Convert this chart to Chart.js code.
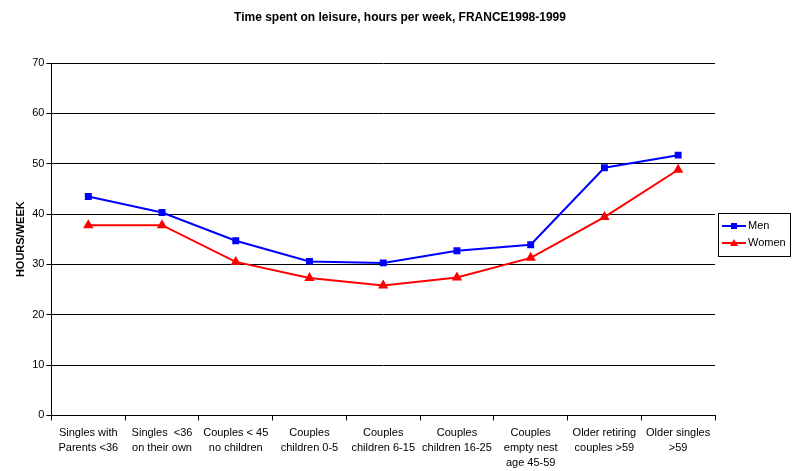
<!DOCTYPE html>
<html>
<head>
<meta charset="utf-8">
<script src="https://cdn.jsdelivr.net/npm/chart.js@4"></script>
<style>
	body { margin: 0; background: #fff; }
	#wrap { width: 793px; height: 471px; }
</style>
</head>
<body>
<div id="wrap"><canvas id="chart"></canvas></div>
<script>
// Time spent on leisure, France 1998-1999

const categories = [
	["Singles with", "Parents <36"],
	["Singles  <36", "on their own"],
	["Couples < 45", "no children"],
	["Couples", "children 0-5"],
	["Couples", "children 6-15"],
	["Couples", "children 16-25"],
	["Couples", "empty nest", "age 45-59"],
	["Older retiring", "couples >59"],
	["Older singles", ">59"],
];
const menHours = [43.5, 40.3, 34.7, 30.6, 30.3, 32.7, 33.9, 49.2, 51.7];
const womenHours = [37.8, 37.8, 30.5, 27.3, 25.8, 27.4, 31.3, 39.4, 48.8];
const yTicks = [0, 10, 20, 30, 40, 50, 60, 70];
const chartTitle = "Time spent on leisure, hours per week, FRANCE1998-1999";

const font = "'Liberation Sans', Arial, sans-serif";

// title + legend box drawn by hand, like the original
const decor = {
	id: "decor",
	afterDraw(chart) {
		const ctx = chart.ctx;
		ctx.save();
		ctx.fillStyle = "#000";
		ctx.font = "bold 12px " + font;
		ctx.textAlign = "center";
		ctx.textBaseline = "middle";
		ctx.fillText(chartTitle, 400, 18);
		ctx.textAlign = "left";

		const x = 718, y = 213, w = 72, h = 43;
		ctx.strokeStyle = "#000";
		ctx.lineWidth = 1;
		ctx.strokeRect(x + 0.5, y + 0.5, w, h);
		const items = [
			{ label: "Men", color: "#0000ff", shape: "square" },
			{ label: "Women", color: "#ff0000", shape: "tri" },
		];
		items.forEach((it, i) => {
			const cy = y + 13 + i * 17;
			ctx.strokeStyle = it.color;
			ctx.fillStyle = it.color;
			ctx.lineWidth = 2;
			ctx.beginPath();
			ctx.moveTo(x + 4, cy);
			ctx.lineTo(x + 28, cy);
			ctx.stroke();
			if (it.shape === "square") {
				ctx.fillRect(x + 13, cy - 3, 6, 6);
			} else {
				ctx.beginPath();
				ctx.moveTo(x + 16, cy - 4);
				ctx.lineTo(x + 20, cy + 3);
				ctx.lineTo(x + 12, cy + 3);
				ctx.closePath();
				ctx.fill();
			}
			ctx.fillStyle = "#000";
			ctx.font = "11px " + font;
			ctx.textBaseline = "middle";
			ctx.fillText(it.label, x + 30, cy);
		});
		ctx.restore();
	},
};

new Chart(document.getElementById("chart"), {
	type: "line",
	data: {
		labels: categories,
		datasets: [
			{
				label: "Men",
				data: menHours,
				borderColor: "#0000ff",
				backgroundColor: "#0000ff",
				borderWidth: 2,
				pointStyle: "rect",
				pointRadius: 3.5,
				tension: 0,
			},
			{
				label: "Women",
				data: womenHours,
				borderColor: "#ff0000",
				backgroundColor: "#ff0000",
				borderWidth: 2,
				pointStyle: "triangle",
				pointRadius: 4,
				tension: 0,
			},
		],
	},
	options: {
		responsive: true,
		maintainAspectRatio: false,
		animation: false,
		layout: { padding: { top: 63, right: 78, bottom: -4, left: 14 } },
		plugins: {
			legend: { display: false },
			tooltip: { enabled: false },
		},
		scales: {
			x: {
				offset: true,
				grid: {
					offset: true,
					drawOnChartArea: false,
					color: "#000",
					tickLength: 5,
				},
				border: { color: "#000" },
				ticks: {
					color: "#000",
					font: { family: font, size: 11, lineHeight: 1.35 },
					maxRotation: 0,
					autoSkip: false,
					padding: 5,
				},
			},
			y: {
				min: 0,
				max: 70,
				afterBuildTicks: (scale) => {
					scale.ticks = yTicks.map((v) => ({ value: v }));
				},
				grid: {
					color: "#000",
					tickLength: 5,
				},
				border: { color: "#000" },
				ticks: {
					color: "#000",
					font: { family: font, size: 11 },
					padding: 2,
				},
				title: {
					display: true,
					text: "HOURS/WEEK",
					color: "#000",
					font: { family: font, size: 11, weight: "bold" },
					padding: { top: 0, bottom: 3 },
				},
			},
		},
	},
	plugins: [decor],
});
</script>
</body>
</html>
